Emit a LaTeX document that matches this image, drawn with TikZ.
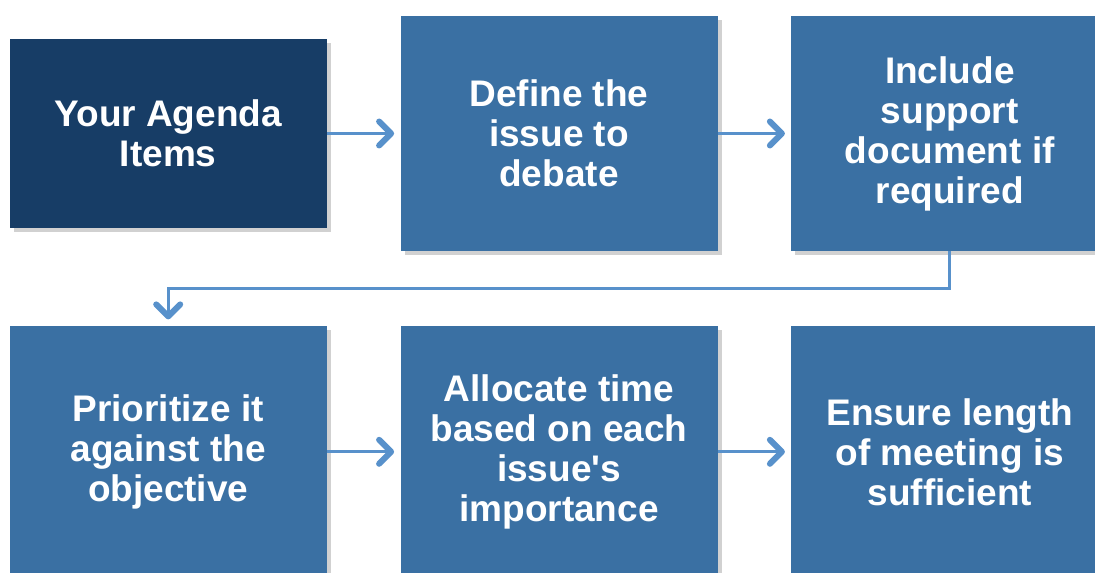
\documentclass[tikz,border=0pt]{standalone}
\usepackage{fontspec}
\setmainfont{Liberation Sans}
\usepackage{tikz}
\usetikzlibrary{
    arrows.meta,
    positioning,
    shadows,
    calc
}
\definecolor{navybox}{RGB}{23,61,102}
\definecolor{stepblue}{RGB}{58,112,163}
\definecolor{flowblue}{RGB}{88,145,203}
\tikzset{
    stepbox/.style = {
        rectangle,
        fill=stepblue,
        text=white,
        font=\fontsize{18.5pt}{20pt}\selectfont\bfseries,
        minimum width=158.5pt,
        minimum height=117.5pt,
        inner sep=0pt,
        align=center,
        drop shadow={shadow xshift=2pt, shadow yshift=-2pt,
            opacity=0.3, fill=black!60}
    },
    startbox/.style = {
        stepbox,
        fill=navybox,
        minimum height=94pt
    },
    lowbox/.style = {
        stepbox,
        minimum height=126pt
    },
    arrow/.style = {
        -{Straight Barb[length=6pt,width=12pt,line width=3pt 0,round]},
        draw=flowblue,
        line width=1.6pt,
        shorten >=3pt
    }
}

\begin{document}
\begin{tikzpicture}
\useasboundingbox (0,0) rectangle (547.5pt,-286pt);
\clip (0,0) rectangle (547.5pt,-286pt);

% top row
\node[stepbox] (define) at (279.5pt,-66.75pt) {Define the\\issue to\\debate};
\node[startbox, left=36.5pt of define] (agenda) {Your Agenda\\Items};
\node[stepbox, right=36.5pt of define] (support) {Include\\support\\document if\\required};

% bottom row
\node[lowbox, below=37pt of define] (allocate) {Allocate time\\based on each\\issue\textquotesingle s\\importance};
\node[lowbox, left=36.5pt of allocate] (prioritize) {Prioritize it\\against the\\objective};
\node[lowbox, right=36.5pt of allocate] (ensure) {Ensure length\\of meeting is\\sufficient};

% connectors
\coordinate (bend) at ($(support.south)!0.5!(ensure.north)$);
\draw[arrow] (agenda.east) -- (define.west);
\draw[arrow] (define.east) -- (support.west);
\draw[arrow] (support.south) -- (bend) -| (prioritize.north);
\draw[arrow] (prioritize.east) -- (allocate.west);
\draw[arrow] (allocate.east) -- (ensure.west);
\end{tikzpicture}
\end{document}
